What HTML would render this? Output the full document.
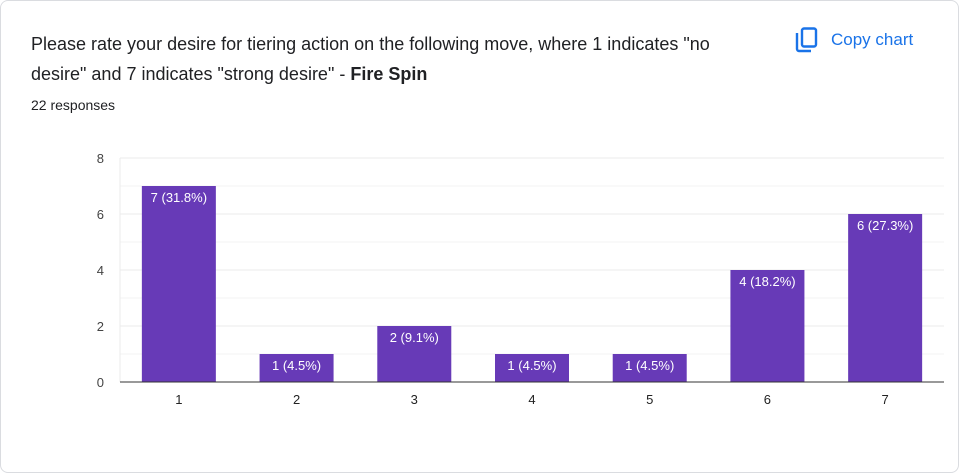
<!DOCTYPE html>
<html><head><meta charset="utf-8"><style>
body{margin:0;width:959px;height:473px;background:#fff;font-family:"Liberation Sans",Arial,sans-serif;overflow:hidden}
.card{position:absolute;left:0;top:0;width:957px;height:471px;border:1px solid #dadce0;border-radius:8px;background:#fff}
.title{position:absolute;left:30px;top:28px;font-size:18px;line-height:30px;color:#202124;width:720px}
.resp{position:absolute;left:30px;top:96px;font-size:14px;color:#202124}
.copy{position:absolute;left:794px;top:26px;color:#1a73e8;font-size:17px;display:flex;align-items:center;gap:12px}
</style></head><body>
<div class="card">
<div class="title">Please rate your desire for tiering action on the following move, where 1 indicates "no desire" and 7 indicates "strong desire" - <b>Fire Spin</b></div>
<div class="resp">22 responses</div>
<div class="copy"><svg width="24" height="26" viewBox="0 0 24 26"><rect x="7" y="1.5" width="14" height="18" rx="2" fill="none" stroke="#1a73e8" stroke-width="2.4"/><path d="M2 6 V22 a2 2 0 0 0 2 2 H16" fill="none" stroke="#1a73e8" stroke-width="2.4"/></svg><span>Copy chart</span></div>
<svg id="chart" width="959" height="473" style="position:absolute;left:-1px;top:-1px"></svg>
</div>
<script>
const categories=["1","2","3","4","5","6","7"];
const counts=[7,1,2,1,1,4,6];
const labels=["7 (31.8%)","1 (4.5%)","2 (9.1%)","1 (4.5%)","1 (4.5%)","4 (18.2%)","6 (27.3%)"];
const yTicks=[0,2,4,6,8];
const NS="http://www.w3.org/2000/svg";
const svg=document.getElementById('chart');
const x0=120,x1=944,y0=382,yTop=158,yMax=8;
const y=v=>y0-(v/yMax)*(y0-yTop);
const band=(x1-x0)/categories.length;
const xc=i=>x0+band*(i+0.5);
function mk(t,a){const e=document.createElementNS(NS,t);for(const k in a)e.setAttribute(k,a[k]);svg.appendChild(e);return e;}
for(let v=0;v<=yMax;v++){const l=mk('line',{x1:x0,x2:x1,y1:y(v),y2:y(v),stroke:v%2?'#f3f3f3':'#ebebeb','stroke-width':1});

}
const ax=mk('line',{x1:x0,x2:x0,y1:yTop,y2:y0,stroke:'#ebebeb'});


yTicks.forEach(v=>{const t=mk('text',{x:104,y:y(v)+5,'text-anchor':'end','font-size':13,fill:'#444'});t.textContent=v;

});
counts.forEach((c,i)=>{const w=74;
const r=mk('rect',{x:xc(i)-w/2,y:y(c),width:w,height:y0-y(c),fill:'#673ab7'});


const t=mk('text',{x:xc(i),y:y(c)+16,'text-anchor':'middle','font-size':13,fill:'#fff'});t.textContent=labels[i];


const xl=mk('text',{x:xc(i),y:404,'text-anchor':'middle','font-size':13,fill:'#222'});xl.textContent=categories[i];

});
const base=mk('line',{x1:x0,x2:x1,y1:y0,y2:y0,stroke:'#333','stroke-width':1});


</script>
</body></html>
